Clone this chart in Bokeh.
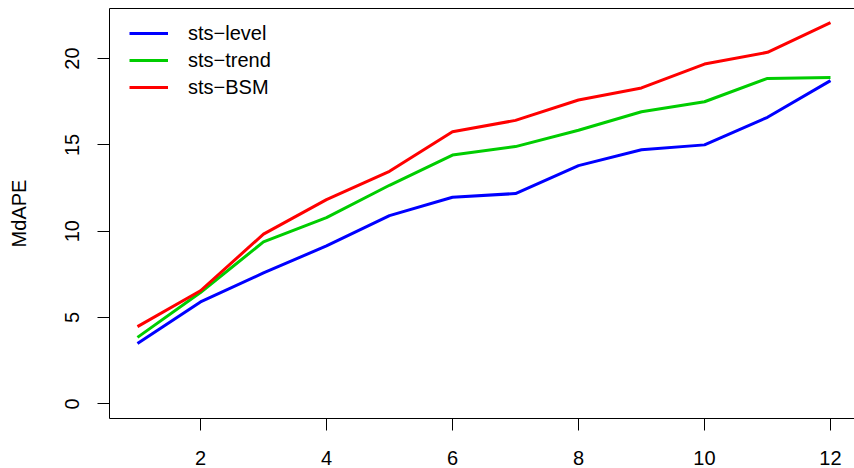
from bokeh.plotting import figure
from bokeh.models import FixedTicker, LinearAxis, Legend, LegendItem, Range1d
from bokeh.embed import file_html
from bokeh.resources import INLINE

horizon = [1, 2, 3, 4, 5, 6, 7, 8, 9, 10, 11, 12]
sts_level = [3.5, 5.9, 7.58, 9.15, 10.9, 11.97, 12.18, 13.8, 14.72, 15.0, 16.6, 18.72]
sts_trend = [3.85, 6.45, 9.38, 10.79, 12.66, 14.41, 14.9, 15.85, 16.92, 17.5, 18.85, 18.9]
sts_bsm = [4.47, 6.55, 9.83, 11.83, 13.47, 15.76, 16.42, 17.6, 18.3, 19.68, 20.36, 22.08]
x_ticks = [2, 4, 6, 8, 10, 12]
y_ticks = [0, 5, 10, 15, 20]
series_names = ["sts\u2212level", "sts\u2212trend", "sts\u2212BSM"]
colors = ["#0000FF", "#00CD00", "#FF0000"]

FONT = "Liberation Sans"
FS = "20px"

p = figure(width=854, height=468, output_backend="svg", toolbar_location=None,
           x_range=Range1d(0.556, 12.381), y_range=Range1d(-0.85, 22.9),
           min_border_left=109, min_border_right=0, min_border_top=8, min_border_bottom=50)
p.outline_line_color = None
p.xgrid.visible = False
p.ygrid.visible = False
p.background_fill_color = "white"
p.border_fill_color = "white"

renderers = []
for ys, c in zip([sts_level, sts_trend, sts_bsm], colors):
    r = p.line(horizon, ys, line_color=c, line_width=3)
    renderers.append(r)

for ax in (p.xaxis[0], p.yaxis[0]):
    ax.axis_line_color = "black"
    ax.axis_line_width = 1
    ax.major_tick_line_color = "black"
    ax.major_tick_out = 12
    ax.major_tick_in = 0
    ax.minor_tick_line_color = None
    ax.major_label_text_font = FONT
    ax.major_label_text_font_size = FS
    ax.major_label_text_color = "black"
    ax.axis_label_text_font = FONT
    ax.axis_label_text_font_size = FS
    ax.axis_label_text_font_style = "normal"
    ax.axis_label_text_color = "black"

p.xaxis[0].ticker = FixedTicker(ticks=x_ticks)
p.xaxis[0].major_label_standoff = 20
p.yaxis[0].ticker = FixedTicker(ticks=y_ticks)
p.yaxis[0].major_label_orientation = "vertical"
p.yaxis[0].major_label_standoff = 18
p.yaxis[0].axis_label = "MdAPE"
p.yaxis[0].axis_label_standoff = 33

top = LinearAxis(ticker=FixedTicker(ticks=[]), axis_line_color="black", axis_line_width=1,
                 major_tick_line_color=None, minor_tick_line_color=None,
                 major_label_text_font_size="0px")
p.add_layout(top, "above")

legend = Legend(items=[LegendItem(label=n, renderers=[r]) for n, r in zip(series_names, renderers)],
                location=(20, 318), border_line_color=None, background_fill_alpha=0,
                label_text_font=FONT, label_text_font_size=FS, label_text_color="black",
                glyph_width=39, glyph_height=26, label_height=26, label_standoff=20,
                spacing=1, padding=0, margin=0)
p.add_layout(legend, "center")

open("out.html", "w").write(file_html(p, INLINE))
